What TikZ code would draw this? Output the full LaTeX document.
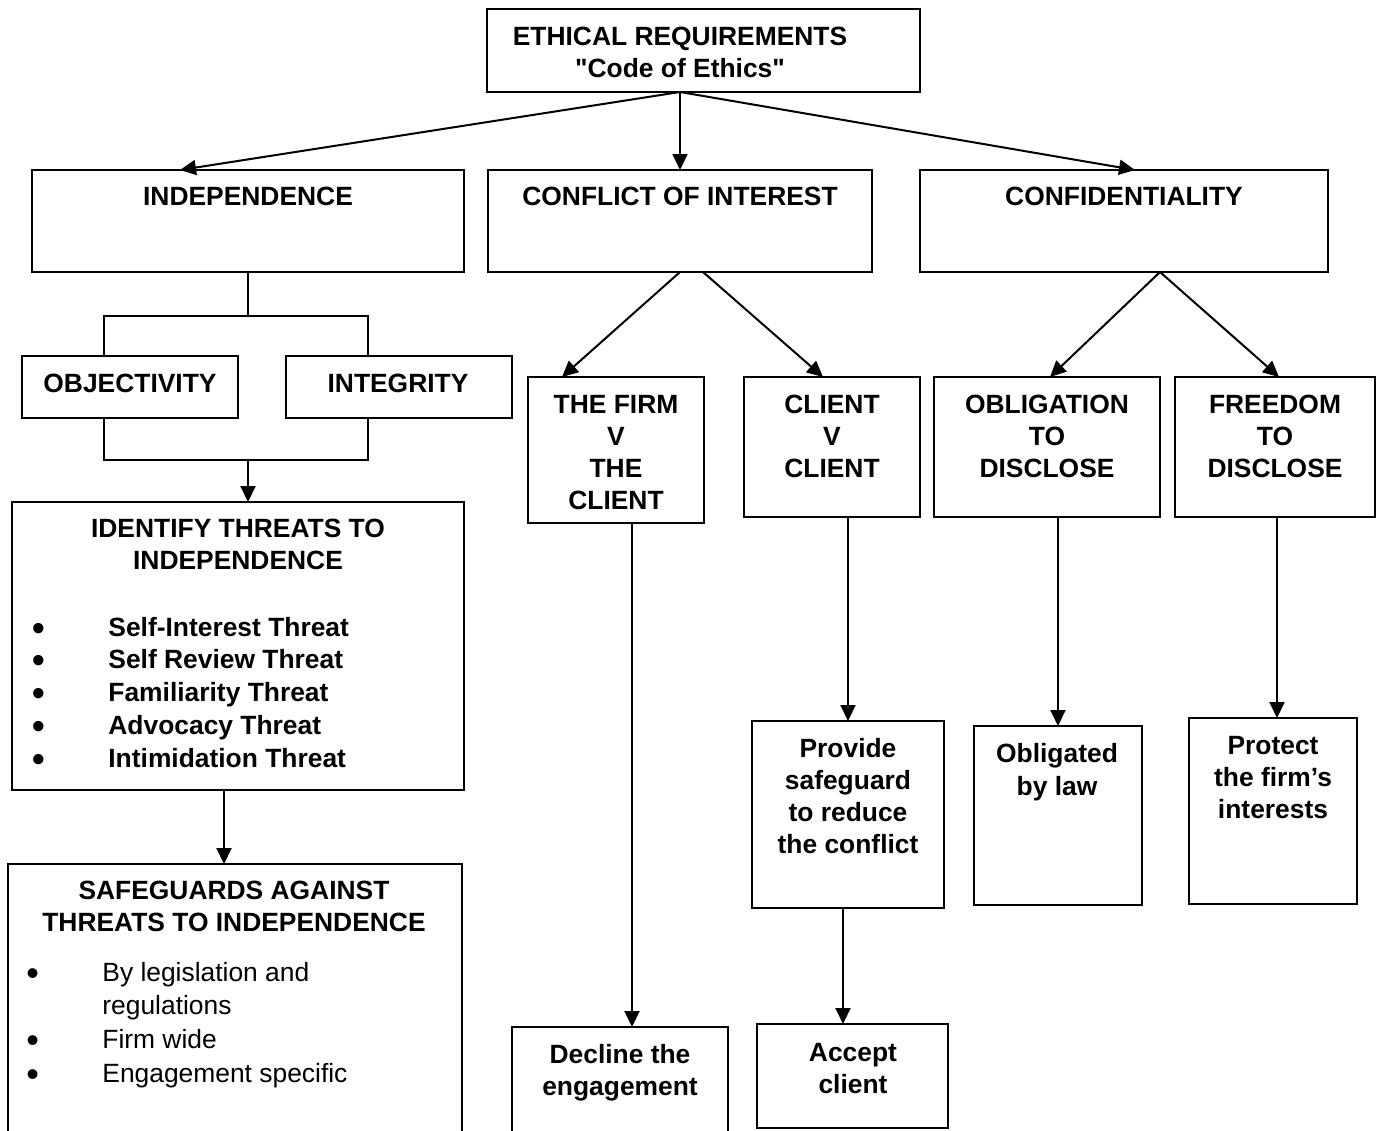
\documentclass[tikz,border=0pt]{standalone}
\usepackage{fontspec}
\setmainfont{Liberation Sans}[Ligatures=TeXOff]
\usetikzlibrary{arrows.meta,calc}
\newcommand\bx[5]{\node[box, minimum width={(#4-#2)*0.5pt}, minimum height={(#5-#3)*0.5pt}] (#1) at ({(#2+#4)/2},{(#3+#5)/2}) {};}
\newcommand\lbl[4]{\node[lab] (#1) at (#2,#3) {\begin{tabular}[t]{@{}c@{}}#4\end{tabular}};}
\newcommand\bul{\makebox[37.25pt][l]{\kern-0.8pt\smash{\raisebox{-2pt}{\fontsize{18}{16}\selectfont\textbullet}}}}
\newcommand\nobul{\makebox[37.25pt][l]{}}
\begin{document}
\begin{tikzpicture}[x=0.5pt,y=-0.5pt,
  box/.style={draw, line width=1pt, inner sep=0pt, outer sep=0pt, rectangle},
  lab/.style={anchor=base, inner sep=0pt, font=\fontsize{13.2}{16}\selectfont\bfseries},
  arr/.style={line width=1pt, -{Triangle[length=8pt,width=7.5pt]}},
  ln/.style={line width=1pt}]
\path[use as bounding box, clip] (0,0) rectangle (1381,1130);
\fill[white] (0,0) rectangle (1381,1130);
% boxes
\bx{top}{487}{9}{920}{92}
\bx{indep}{32}{170}{464}{272}
\bx{conflict}{488}{170}{872}{272}
\bx{confid}{920}{170}{1328}{272}
\bx{obj}{22}{356}{238}{418}
\bx{integ}{286}{356}{512}{418}
\bx{identify}{12}{502}{464}{790}
\bx{safe}{8}{864}{462}{1145}
\bx{firm}{528}{377}{704}{523}
\bx{cvc}{744}{377}{920}{517}
\bx{oblig}{934}{377}{1160}{517}
\bx{freedom}{1175}{377}{1375}{517}
\bx{provide}{752}{721}{944}{908}
\bx{obligated}{974}{726}{1142}{905}
\bx{protect}{1189}{718}{1357}{904}
\bx{decline}{512}{1027}{728}{1145}
\bx{accept}{757}{1024}{948}{1128}
% labels
\lbl{topT}{680}{45}{ETHICAL REQUIREMENTS\\ "Code of Ethics"}
\lbl{indepT}{248}{205}{INDEPENDENCE}
\lbl{conflictT}{680}{205}{CONFLICT OF INTEREST}
\lbl{confidT}{1124}{205}{CONFIDENTIALITY}
\lbl{objT}{130}{392}{OBJECTIVITY}
\lbl{integT}{398}{392}{INTEGRITY}
\lbl{identifyT}{238}{537}{IDENTIFY THREATS TO\\ INDEPENDENCE}
\lbl{safeT}{234}{899}{SAFEGUARDS AGAINST\\ THREATS TO INDEPENDENCE}
\lbl{firmT}{616}{413}{THE FIRM\\ V\\ THE\\ CLIENT}
\lbl{cvcT}{832}{413}{CLIENT\\ V\\ CLIENT}
\lbl{obligT}{1047}{413}{OBLIGATION\\ TO\\ DISCLOSE}
\lbl{freedomT}{1275}{413}{FREEDOM\\ TO\\ DISCLOSE}
\lbl{provideT}{848}{757}{Provide\\ safeguard\\ to reduce\\ the conflict}
\node[lab, font=\fontsize{13.2}{16.5}\selectfont\bfseries] (obligatedT) at (1057,762) {\begin{tabular}[t]{@{}c@{}}Obligated\\ by law\end{tabular}};
\lbl{protectT}{1273}{754}{Protect\\ the firm’s\\ interests}
\lbl{declineT}{620}{1063}{Decline the\\ engagement}
\lbl{acceptT}{853}{1061}{Accept\\ client}
% lists
\node[lab, anchor=base west, font=\fontsize{13.2}{16.4}\selectfont\bfseries] (identifyL) at (33.5,636)
  {\begin{tabular}[t]{@{}l@{}}\bul Self-Interest Threat\\ \bul Self Review Threat\\ \bul Familiarity Threat\\ \bul Advocacy Threat\\ \bul Intimidation Threat\end{tabular}};
\node[lab, anchor=base west, font=\fontsize{13.2}{16.9}\selectfont\mdseries] (safeL) at (27.5,981)
  {\begin{tabular}[t]{@{}l@{}}\bul By legislation and\\ \nobul regulations\\ \bul Firm wide\\ \bul Engagement specific\end{tabular}};
% connectors from top
\coordinate (topO) at ($(top.south west)+(193,0)$);
\draw[arr] (topO) -- ($(indep.north west)+(148,0)$);
\draw[arr] (topO) -- (topO |- conflict.north);
\draw[arr] (topO) -- ($(confid.north west)+(215,0)$);
% independence tree
\coordinate (j1) at ($(indep.south)+(0,44)$);
\draw[ln] (indep.south) -- (j1);
\draw[ln] ($(obj.north west)+(82,0)$) |- (j1) -| ($(integ.north west)+(82,0)$);
\coordinate (j2) at (248,460);
\draw[ln] ($(obj.south west)+(82,0)$) |- (j2) -| ($(integ.south west)+(82,0)$);
\draw[arr] (j2) -- (j2 |- identify.north);
\draw[arr] ($(identify.south west)+(212,0)$) -- ($(safe.north west)+(216,0)$);
% conflict branches
\draw[arr] ($(conflict.south west)+(192,0)$) -- ($(firm.north west)+(34,0)$);
\draw[arr] ($(conflict.south west)+(215,0)$) -- ($(cvc.north west)+(79,0)$);
% confidentiality branches
\draw[arr] ($(confid.south west)+(240,0)$) -- ($(oblig.north west)+(116,0)$);
\draw[arr] ($(confid.south west)+(240,0)$) -- ($(freedom.north west)+(104,0)$);
% downward
\draw[arr] ($(firm.south west)+(104,0)$) -- ($(decline.north west)+(120,0)$);
\draw[arr] ($(cvc.south west)+(104,0)$) -- ($(provide.north west)+(96,0)$);
\draw[arr] ($(provide.south west)+(91,0)$) -- ($(accept.north west)+(86,0)$);
\draw[arr] ($(oblig.south west)+(124,0)$) -- ($(obligated.north west)+(84,0)$);
\draw[arr] ($(freedom.south west)+(102,0)$) -- ($(protect.north west)+(88,0)$);
\end{tikzpicture}
\end{document}
